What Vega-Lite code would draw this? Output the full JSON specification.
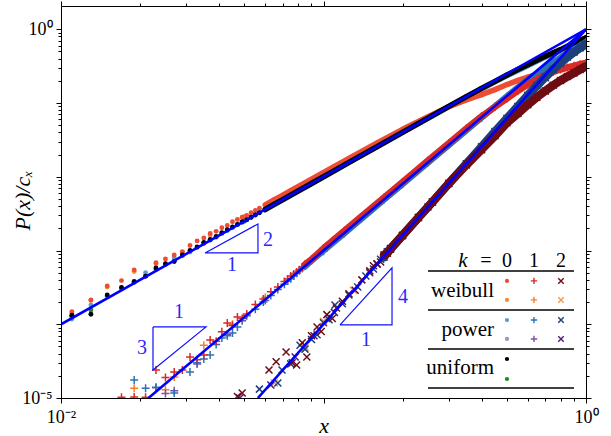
{
"$schema": "https://vega.github.io/schema/vega-lite/v6.json",
"width": 525, "height": 392,
"autosize": {"type": "none"},
"padding": {"left": 61, "top": 6, "right": 25, "bottom": 38},
"background": "white",
"config": {"font": "Liberation Serif", "view": {"stroke": null}},
"datasets": {
"main": [
{"s":"w0b","k":0,"x":0.011,"y":1.40e-4},{"s":"w0b","k":0,"x":0.013,"y":2.10e-4},{"s":"w0b","k":0,"x":0.015,"y":3.20e-4},{"s":"w0b","k":0,"x":0.019,"y":5.20e-4},{"s":"w0b","k":0,"x":0.023,"y":6.60e-4},{"s":"w0b","k":0,"x":0.029,"y":9.40e-4},{"s":"w0b","k":0,"x":0.037,"y":1.62e-3},{"s":"w0b","k":0,"x":0.05,"y":2.9e-3},{"s":"w0b","k":0,"x":0.1,"y":1.14e-2},{"s":"w0b","k":0,"x":0.2,"y":4.3e-2},{"s":"w0b","k":0,"x":0.4,"y":0.128},{"s":"w0b","k":0,"x":0.7,"y":0.26},{"s":"w0b","k":0,"x":1.0,"y":0.35},
{"s":"p0b","k":0,"x":0.011,"y":1.22e-4},{"s":"p0b","k":0,"x":0.017,"y":3.0e-4},{"s":"p0b","k":0,"x":0.025,"y":6.5e-4},{"s":"p0b","k":0,"x":0.035,"y":1.25e-3},{"s":"p0b","k":0,"x":0.05,"y":2.5e-3},{"s":"p0b","k":0,"x":0.1,"y":1.0e-2},{"s":"p0b","k":0,"x":0.2,"y":4.0e-2},{"s":"p0b","k":0,"x":0.4,"y":0.155},{"s":"p0b","k":0,"x":0.7,"y":0.44},{"s":"p0b","k":0,"x":1.0,"y":0.74},
{"s":"u0b","k":0,"x":0.011,"y":1.28e-4},{"s":"u0b","k":0,"x":0.013,"y":1.56e-4},{"s":"u0b","k":0,"x":0.019,"y":3.7e-4},{"s":"u0b","k":0,"x":0.027,"y":7.3e-4},{"s":"u0b","k":0,"x":0.035,"y":1.25e-3},{"s":"u0b","k":0,"x":0.05,"y":2.5e-3},{"s":"u0b","k":0,"x":0.1,"y":1.0e-2},{"s":"u0b","k":0,"x":0.2,"y":4.0e-2},{"s":"u0b","k":0,"x":0.4,"y":0.158},{"s":"u0b","k":0,"x":0.7,"y":0.43},{"s":"u0b","k":0,"x":1.0,"y":0.76},
{"s":"w1b","k":1,"x":0.019,"y":1.36e-5},{"s":"w1b","k":1,"x":0.025,"y":1.29e-5},{"s":"w1b","k":1,"x":0.027,"y":1.93e-5},{"s":"w1b","k":1,"x":0.035,"y":5.2e-5},{"s":"w1b","k":1,"x":0.045,"y":1.0e-4},{"s":"w1b","k":1,"x":0.06,"y":2.3e-4},{"s":"w1b","k":1,"x":0.1,"y":1.05e-3},{"s":"w1b","k":1,"x":0.2,"y":8.3e-3},{"s":"w1b","k":1,"x":0.4,"y":6.5e-2},{"s":"w1b","k":1,"x":0.7,"y":0.24},{"s":"w1b","k":1,"x":1.0,"y":0.35},
{"s":"p1b","k":1,"x":0.023,"y":1.38e-5},{"s":"p1b","k":1,"x":0.025,"y":1.15e-5},{"s":"p1b","k":1,"x":0.027,"y":1.25e-5},{"s":"p1b","k":1,"x":0.033,"y":2.9e-5},{"s":"p1b","k":1,"x":0.043,"y":7.3e-5},{"s":"p1b","k":1,"x":0.06,"y":2.1e-4},{"s":"p1b","k":1,"x":0.1,"y":9.8e-4},{"s":"p1b","k":1,"x":0.2,"y":7.9e-3},{"s":"p1b","k":1,"x":0.4,"y":6.3e-2},{"s":"p1b","k":1,"x":0.7,"y":0.30},{"s":"p1b","k":1,"x":1.0,"y":0.67},
{"s":"w2b","k":2,"x":0.065,"y":1.6e-5},{"s":"w2b","k":2,"x":0.085,"y":4.9e-5},{"s":"w2b","k":2,"x":0.1,"y":1.1e-4},{"s":"w2b","k":2,"x":0.13,"y":2.9e-4},{"s":"w2b","k":2,"x":0.2,"y":1.6e-3},{"s":"w2b","k":2,"x":0.4,"y":2.3e-2},{"s":"w2b","k":2,"x":0.7,"y":0.146},{"s":"w2b","k":2,"x":1.0,"y":0.315},
{"s":"p2b","k":2,"x":0.048,"y":1.0e-5},{"s":"p2b","k":2,"x":0.063,"y":1.5e-5},{"s":"p2b","k":2,"x":0.078,"y":3.6e-5},{"s":"p2b","k":2,"x":0.092,"y":7.0e-5},{"s":"p2b","k":2,"x":0.11,"y":1.45e-4},{"s":"p2b","k":2,"x":0.15,"y":5.0e-4},{"s":"p2b","k":2,"x":0.25,"y":3.9e-3},{"s":"p2b","k":2,"x":0.4,"y":2.5e-2},{"s":"p2b","k":2,"x":0.7,"y":0.22},{"s":"p2b","k":2,"x":1.0,"y":0.6},
{"s":"p0a","k":0,"x":0.011,"y":1.18e-4},{"s":"p0a","k":0,"x":0.013,"y":1.82e-4},{"s":"p0a","k":0,"x":0.015,"y":2.40e-4},{"s":"p0a","k":0,"x":0.017,"y":3.02e-4},{"s":"p0a","k":0,"x":0.019,"y":3.72e-4},{"s":"p0a","k":0,"x":0.021,"y":5.01e-4},{"s":"p0a","k":0,"x":0.023,"y":5.50e-4},{"s":"p0a","k":0,"x":0.025,"y":6.46e-4},{"s":"p0a","k":0,"x":0.027,"y":7.94e-4},{"s":"p0a","k":0,"x":0.029,"y":8.51e-4},{"s":"p0a","k":0,"x":0.031,"y":9.55e-4},{"s":"p0a","k":0,"x":0.033,"y":1.10e-3},{"s":"p0a","k":0,"x":0.035,"y":1.26e-3},{"s":"p0a","k":0,"x":0.037,"y":1.38e-3},{"s":"p0a","k":0,"x":0.039,"y":1.51e-3},{"s":"p0a","k":0,"x":0.041,"y":1.70e-3},{"s":"p0a","k":0,"x":0.043,"y":1.86e-3},{"s":"p0a","k":0,"x":0.045,"y":2.03e-3},{"s":"p0a","k":0,"x":0.047,"y":2.24e-3},{"s":"p0a","k":0,"x":0.049,"y":2.4e-3},{"s":"p0a","k":0,"x":0.051,"y":2.6e-3},{"s":"p0a","k":0,"x":0.053,"y":2.8e-3},{"s":"p0a","k":0,"x":0.055,"y":3.0e-3},{"s":"p0a","k":0,"x":0.057,"y":3.24e-3},{"s":"p0a","k":0,"x":0.06,"y":3.6e-3},{"s":"p0a","k":0,"x":0.065,"y":4.2e-3},{"s":"p0a","k":0,"x":0.07,"y":4.9e-3},{"s":"p0a","k":0,"x":0.075,"y":5.6e-3},{"s":"p0a","k":0,"x":0.09,"y":8.1e-3},{"s":"p0a","k":0,"x":0.11,"y":1.2e-2},{"s":"p0a","k":0,"x":0.13,"y":1.69e-2},{"s":"p0a","k":0,"x":0.16,"y":2.55e-2},{"s":"p0a","k":0,"x":0.2,"y":4.0e-2},{"s":"p0a","k":0,"x":0.25,"y":6.2e-2},{"s":"p0a","k":0,"x":0.3,"y":8.9e-2},{"s":"p0a","k":0,"x":0.35,"y":0.12},{"s":"p0a","k":0,"x":0.4,"y":0.155},{"s":"p0a","k":0,"x":0.5,"y":0.235},{"s":"p0a","k":0,"x":0.6,"y":0.32},{"s":"p0a","k":0,"x":0.7,"y":0.42},{"s":"p0a","k":0,"x":0.8,"y":0.51},{"s":"p0a","k":0,"x":0.9,"y":0.61},{"s":"p0a","k":0,"x":1.0,"y":0.72},
{"s":"p1a","k":1,"x":0.019,"y":1.75e-5},{"s":"p1a","k":1,"x":0.021,"y":1.36e-5},{"s":"p1a","k":1,"x":0.023,"y":1.40e-5},{"s":"p1a","k":1,"x":0.027,"y":1.17e-5},{"s":"p1a","k":1,"x":0.031,"y":2.25e-5},{"s":"p1a","k":1,"x":0.033,"y":3.0e-5},{"s":"p1a","k":1,"x":0.035,"y":3.38e-5},{"s":"p1a","k":1,"x":0.037,"y":3.83e-5},{"s":"p1a","k":1,"x":0.039,"y":5.3e-5},{"s":"p1a","k":1,"x":0.041,"y":6.5e-5},{"s":"p1a","k":1,"x":0.043,"y":7.0e-5},{"s":"p1a","k":1,"x":0.045,"y":7.6e-5},{"s":"p1a","k":1,"x":0.047,"y":9.2e-5},{"s":"p1a","k":1,"x":0.049,"y":1.12e-4},{"s":"p1a","k":1,"x":0.051,"y":1.3e-4},{"s":"p1a","k":1,"x":0.055,"y":1.6e-4},{"s":"p1a","k":1,"x":0.059,"y":2.0e-4},{"s":"p1a","k":1,"x":0.063,"y":2.45e-4},{"s":"p1a","k":1,"x":0.067,"y":2.95e-4},{"s":"p1a","k":1,"x":0.071,"y":3.5e-4},{"s":"p1a","k":1,"x":0.073,"y":3.85e-4},{"s":"p1a","k":1,"x":0.075,"y":4.15e-4},{"s":"p1a","k":1,"x":0.077,"y":4.5e-4},{"s":"p1a","k":1,"x":0.079,"y":4.9e-4},{"s":"p1a","k":1,"x":0.081,"y":5.3e-4},{"s":"p1a","k":1,"x":0.083,"y":5.7e-4},{"s":"p1a","k":1,"x":0.085,"y":6.1e-4},{"s":"p1a","k":1,"x":0.09,"y":7.3e-4},{"s":"p1a","k":1,"x":0.1,"y":1.0e-3},{"s":"p1a","k":1,"x":0.12,"y":1.72e-3},{"s":"p1a","k":1,"x":0.14,"y":2.74e-3},{"s":"p1a","k":1,"x":0.17,"y":4.9e-3},{"s":"p1a","k":1,"x":0.2,"y":8.0e-3},{"s":"p1a","k":1,"x":0.25,"y":1.56e-2},{"s":"p1a","k":1,"x":0.3,"y":2.7e-2},{"s":"p1a","k":1,"x":0.35,"y":4.28e-2},{"s":"p1a","k":1,"x":0.4,"y":6.35e-2},{"s":"p1a","k":1,"x":0.45,"y":9.0e-2},{"s":"p1a","k":1,"x":0.5,"y":0.123},{"s":"p1a","k":1,"x":0.55,"y":0.162},{"s":"p1a","k":1,"x":0.6,"y":0.205},{"s":"p1a","k":1,"x":0.65,"y":0.25},{"s":"p1a","k":1,"x":0.7,"y":0.30},{"s":"p1a","k":1,"x":0.75,"y":0.355},{"s":"p1a","k":1,"x":0.8,"y":0.41},{"s":"p1a","k":1,"x":0.85,"y":0.47},{"s":"p1a","k":1,"x":0.9,"y":0.53},{"s":"p1a","k":1,"x":0.95,"y":0.60},{"s":"p1a","k":1,"x":1.0,"y":0.67},
{"s":"p2a","k":2,"x":0.057,"y":1.32e-5},{"s":"p2a","k":2,"x":0.067,"y":1.6e-5},{"s":"p2a","k":2,"x":0.0695,"y":2.4e-5},{"s":"p2a","k":2,"x":0.075,"y":2.9e-5},{"s":"p2a","k":2,"x":0.0814,"y":5.2e-5},{"s":"p2a","k":2,"x":0.085,"y":4.6e-5},{"s":"p2a","k":2,"x":0.09,"y":6.2e-5},{"s":"p2a","k":2,"x":0.0945,"y":7.2e-5},{"s":"p2a","k":2,"x":0.1,"y":1.05e-4},{"s":"p2a","k":2,"x":0.105,"y":1.15e-4},{"s":"p2a","k":2,"x":0.1106,"y":1.82e-4},{"s":"p2a","k":2,"x":0.118,"y":1.9e-4},{"s":"p2a","k":2,"x":0.125,"y":2.5e-4},{"s":"p2a","k":2,"x":0.135,"y":3.2e-4},{"s":"p2a","k":2,"x":0.145,"y":4.5e-4},{"s":"p2a","k":2,"x":0.155,"y":5.6e-4},{"s":"p2a","k":2,"x":0.16,"y":6.5e-4},{"s":"p2a","k":2,"x":0.165,"y":7.6e-4},{"s":"p2a","k":2,"x":0.17,"y":8.1e-4},{"s":"p2a","k":2,"x":0.175,"y":9.6e-4},{"s":"p2a","k":2,"x":0.18,"y":1.04e-3},{"s":"p2a","k":2,"x":0.2,"y":1.6e-3},{"s":"p2a","k":2,"x":0.23,"y":2.8e-3},{"s":"p2a","k":2,"x":0.26,"y":4.55e-3},{"s":"p2a","k":2,"x":0.3,"y":8.1e-3},{"s":"p2a","k":2,"x":0.35,"y":1.5e-2},{"s":"p2a","k":2,"x":0.4,"y":2.55e-2},{"s":"p2a","k":2,"x":0.45,"y":4.1e-2},{"s":"p2a","k":2,"x":0.5,"y":6.2e-2},{"s":"p2a","k":2,"x":0.55,"y":9.0e-2},{"s":"p2a","k":2,"x":0.6,"y":0.127},{"s":"p2a","k":2,"x":0.65,"y":0.172},{"s":"p2a","k":2,"x":0.7,"y":0.225},{"s":"p2a","k":2,"x":0.75,"y":0.285},{"s":"p2a","k":2,"x":0.8,"y":0.35},{"s":"p2a","k":2,"x":0.85,"y":0.42},{"s":"p2a","k":2,"x":0.9,"y":0.49},{"s":"p2a","k":2,"x":0.95,"y":0.56},{"s":"p2a","k":2,"x":1.0,"y":0.63},
{"s":"w0a","k":0,"x":0.011,"y":1.48e-4},{"s":"w0a","k":0,"x":0.013,"y":2.14e-4},{"s":"w0a","k":0,"x":0.015,"y":3.31e-4},{"s":"w0a","k":0,"x":0.017,"y":3.91e-4},{"s":"w0a","k":0,"x":0.019,"y":5.46e-4},{"s":"w0a","k":0,"x":0.021,"y":4.52e-4},{"s":"w0a","k":0,"x":0.023,"y":6.85e-4},{"s":"w0a","k":0,"x":0.025,"y":7.69e-4},{"s":"w0a","k":0,"x":0.027,"y":8.71e-4},{"s":"w0a","k":0,"x":0.029,"y":9.66e-4},{"s":"w0a","k":0,"x":0.031,"y":1.17e-3},{"s":"w0a","k":0,"x":0.033,"y":1.35e-3},{"s":"w0a","k":0,"x":0.035,"y":1.48e-3},{"s":"w0a","k":0,"x":0.037,"y":1.70e-3},{"s":"w0a","k":0,"x":0.039,"y":1.82e-3},{"s":"w0a","k":0,"x":0.041,"y":2.04e-3},{"s":"w0a","k":0,"x":0.043,"y":2.19e-3},{"s":"w0a","k":0,"x":0.045,"y":2.45e-3},{"s":"w0a","k":0,"x":0.047,"y":2.63e-3},{"s":"w0a","k":0,"x":0.049,"y":2.82e-3},{"s":"w0a","k":0,"x":0.051,"y":3.0e-3},{"s":"w0a","k":0,"x":0.053,"y":3.25e-3},{"s":"w0a","k":0,"x":0.055,"y":3.5e-3},{"s":"w0a","k":0,"x":0.057,"y":3.75e-3},{"s":"w0a","k":0,"x":0.06,"y":4.15e-3},{"s":"w0a","k":0,"x":0.065,"y":4.9e-3},{"s":"w0a","k":0,"x":0.07,"y":5.65e-3},{"s":"w0a","k":0,"x":0.075,"y":6.5e-3},{"s":"w0a","k":0,"x":0.09,"y":9.3e-3},{"s":"w0a","k":0,"x":0.11,"y":1.38e-2},{"s":"w0a","k":0,"x":0.13,"y":1.92e-2},{"s":"w0a","k":0,"x":0.16,"y":2.88e-2},{"s":"w0a","k":0,"x":0.2,"y":4.4e-2},{"s":"w0a","k":0,"x":0.25,"y":6.5e-2},{"s":"w0a","k":0,"x":0.3,"y":8.9e-2},{"s":"w0a","k":0,"x":0.35,"y":0.110},{"s":"w0a","k":0,"x":0.4,"y":0.130},{"s":"w0a","k":0,"x":0.45,"y":0.152},{"s":"w0a","k":0,"x":0.5,"y":0.178},{"s":"w0a","k":0,"x":0.55,"y":0.203},{"s":"w0a","k":0,"x":0.6,"y":0.225},{"s":"w0a","k":0,"x":0.65,"y":0.245},{"s":"w0a","k":0,"x":0.7,"y":0.263},{"s":"w0a","k":0,"x":0.75,"y":0.28},{"s":"w0a","k":0,"x":0.8,"y":0.295},{"s":"w0a","k":0,"x":0.85,"y":0.31},{"s":"w0a","k":0,"x":0.9,"y":0.324},{"s":"w0a","k":0,"x":0.95,"y":0.338},{"s":"w0a","k":0,"x":1.0,"y":0.351},
{"s":"w1a","k":1,"x":0.017,"y":1.02e-5},{"s":"w1a","k":1,"x":0.019,"y":1.03e-5},{"s":"w1a","k":1,"x":0.021,"y":1.02e-5},{"s":"w1a","k":1,"x":0.023,"y":2.40e-5},{"s":"w1a","k":1,"x":0.025,"y":1.9e-5},{"s":"w1a","k":1,"x":0.027,"y":2.25e-5},{"s":"w1a","k":1,"x":0.029,"y":2.40e-5},{"s":"w1a","k":1,"x":0.031,"y":3.6e-5},{"s":"w1a","k":1,"x":0.033,"y":3.3e-5},{"s":"w1a","k":1,"x":0.035,"y":3.83e-5},{"s":"w1a","k":1,"x":0.037,"y":6.1e-5},{"s":"w1a","k":1,"x":0.039,"y":5.9e-5},{"s":"w1a","k":1,"x":0.041,"y":7.9e-5},{"s":"w1a","k":1,"x":0.043,"y":1.04e-4},{"s":"w1a","k":1,"x":0.045,"y":9.6e-5},{"s":"w1a","k":1,"x":0.047,"y":1.25e-4},{"s":"w1a","k":1,"x":0.049,"y":1.2e-4},{"s":"w1a","k":1,"x":0.051,"y":1.38e-4},{"s":"w1a","k":1,"x":0.055,"y":1.85e-4},{"s":"w1a","k":1,"x":0.059,"y":2.2e-4},{"s":"w1a","k":1,"x":0.063,"y":2.75e-4},{"s":"w1a","k":1,"x":0.067,"y":3.2e-4},{"s":"w1a","k":1,"x":0.071,"y":3.8e-4},{"s":"w1a","k":1,"x":0.073,"y":4.1e-4},{"s":"w1a","k":1,"x":0.075,"y":4.5e-4},{"s":"w1a","k":1,"x":0.077,"y":4.8e-4},{"s":"w1a","k":1,"x":0.079,"y":5.1e-4},{"s":"w1a","k":1,"x":0.081,"y":5.5e-4},{"s":"w1a","k":1,"x":0.083,"y":6.0e-4},{"s":"w1a","k":1,"x":0.085,"y":6.5e-4},{"s":"w1a","k":1,"x":0.09,"y":7.6e-4},{"s":"w1a","k":1,"x":0.1,"y":1.07e-3},{"s":"w1a","k":1,"x":0.12,"y":1.85e-3},{"s":"w1a","k":1,"x":0.14,"y":2.95e-3},{"s":"w1a","k":1,"x":0.17,"y":5.25e-3},{"s":"w1a","k":1,"x":0.2,"y":8.5e-3},{"s":"w1a","k":1,"x":0.25,"y":1.66e-2},{"s":"w1a","k":1,"x":0.3,"y":2.85e-2},{"s":"w1a","k":1,"x":0.35,"y":4.5e-2},{"s":"w1a","k":1,"x":0.4,"y":6.6e-2},{"s":"w1a","k":1,"x":0.45,"y":8.9e-2},{"s":"w1a","k":1,"x":0.5,"y":0.115},{"s":"w1a","k":1,"x":0.55,"y":0.146},{"s":"w1a","k":1,"x":0.6,"y":0.178},{"s":"w1a","k":1,"x":0.65,"y":0.21},{"s":"w1a","k":1,"x":0.7,"y":0.24},{"s":"w1a","k":1,"x":0.75,"y":0.265},{"s":"w1a","k":1,"x":0.8,"y":0.285},{"s":"w1a","k":1,"x":0.85,"y":0.303},{"s":"w1a","k":1,"x":0.9,"y":0.32},{"s":"w1a","k":1,"x":0.95,"y":0.336},{"s":"w1a","k":1,"x":1.0,"y":0.35},
{"s":"w2a","k":2,"x":0.047,"y":1.05e-5},{"s":"w2a","k":2,"x":0.049,"y":1.17e-5},{"s":"w2a","k":2,"x":0.062,"y":2.4e-5},{"s":"w2a","k":2,"x":0.066,"y":3.1e-5},{"s":"w2a","k":2,"x":0.072,"y":4.2e-5},{"s":"w2a","k":2,"x":0.076,"y":3.0e-5},{"s":"w2a","k":2,"x":0.079,"y":2.8e-5},{"s":"w2a","k":2,"x":0.083,"y":5.6e-5},{"s":"w2a","k":2,"x":0.0864,"y":3.6e-5},{"s":"w2a","k":2,"x":0.09,"y":7.0e-5},{"s":"w2a","k":2,"x":0.0945,"y":9.2e-5},{"s":"w2a","k":2,"x":0.098,"y":8.0e-5},{"s":"w2a","k":2,"x":0.103,"y":1.35e-4},{"s":"w2a","k":2,"x":0.108,"y":1.2e-4},{"s":"w2a","k":2,"x":0.112,"y":1.66e-4},{"s":"w2a","k":2,"x":0.118,"y":2.05e-4},{"s":"w2a","k":2,"x":0.125,"y":2.6e-4},{"s":"w2a","k":2,"x":0.132,"y":2.9e-4},{"s":"w2a","k":2,"x":0.14,"y":4.0e-4},{"s":"w2a","k":2,"x":0.15,"y":5.3e-4},{"s":"w2a","k":2,"x":0.155,"y":6.2e-4},{"s":"w2a","k":2,"x":0.16,"y":6.6e-4},{"s":"w2a","k":2,"x":0.165,"y":7.0e-4},{"s":"w2a","k":2,"x":0.17,"y":8.7e-4},{"s":"w2a","k":2,"x":0.175,"y":9.2e-4},{"s":"w2a","k":2,"x":0.18,"y":1.06e-3},{"s":"w2a","k":2,"x":0.2,"y":1.6e-3},{"s":"w2a","k":2,"x":0.23,"y":2.8e-3},{"s":"w2a","k":2,"x":0.26,"y":4.55e-3},{"s":"w2a","k":2,"x":0.3,"y":8.1e-3},{"s":"w2a","k":2,"x":0.35,"y":1.45e-2},{"s":"w2a","k":2,"x":0.4,"y":2.34e-2},{"s":"w2a","k":2,"x":0.45,"y":3.6e-2},{"s":"w2a","k":2,"x":0.5,"y":5.4e-2},{"s":"w2a","k":2,"x":0.55,"y":7.2e-2},{"s":"w2a","k":2,"x":0.6,"y":9.5e-2},{"s":"w2a","k":2,"x":0.65,"y":0.12},{"s":"w2a","k":2,"x":0.7,"y":0.146},{"s":"w2a","k":2,"x":0.75,"y":0.174},{"s":"w2a","k":2,"x":0.8,"y":0.202},{"s":"w2a","k":2,"x":0.85,"y":0.229},{"s":"w2a","k":2,"x":0.9,"y":0.256},{"s":"w2a","k":2,"x":0.95,"y":0.285},{"s":"w2a","k":2,"x":1.0,"y":0.315},
{"s":"u0a","k":0,"x":0.011,"y":1.33e-4},{"s":"u0a","k":0,"x":0.013,"y":1.37e-4},{"s":"u0a","k":0,"x":0.015,"y":2.50e-4},{"s":"u0a","k":0,"x":0.017,"y":3.16e-4},{"s":"u0a","k":0,"x":0.019,"y":3.80e-4},{"s":"u0a","k":0,"x":0.021,"y":4.47e-4},{"s":"u0a","k":0,"x":0.023,"y":5.81e-4},{"s":"u0a","k":0,"x":0.025,"y":6.61e-4},{"s":"u0a","k":0,"x":0.027,"y":7.08e-4},{"s":"u0a","k":0,"x":0.029,"y":8.71e-4},{"s":"u0a","k":0,"x":0.031,"y":1.00e-3},{"s":"u0a","k":0,"x":0.033,"y":1.12e-3},{"s":"u0a","k":0,"x":0.035,"y":1.29e-3},{"s":"u0a","k":0,"x":0.037,"y":1.41e-3},{"s":"u0a","k":0,"x":0.039,"y":1.55e-3},{"s":"u0a","k":0,"x":0.041,"y":1.74e-3},{"s":"u0a","k":0,"x":0.043,"y":1.91e-3},{"s":"u0a","k":0,"x":0.045,"y":2.09e-3},{"s":"u0a","k":0,"x":0.047,"y":2.26e-3},{"s":"u0a","k":0,"x":0.049,"y":2.45e-3},{"s":"u0a","k":0,"x":0.051,"y":2.62e-3},{"s":"u0a","k":0,"x":0.053,"y":2.82e-3},{"s":"u0a","k":0,"x":0.055,"y":3.05e-3},{"s":"u0a","k":0,"x":0.057,"y":3.25e-3},{"s":"u0a","k":0,"x":0.06,"y":3.6e-3},{"s":"u0a","k":0,"x":0.065,"y":4.25e-3},{"s":"u0a","k":0,"x":0.07,"y":4.9e-3},{"s":"u0a","k":0,"x":0.075,"y":5.65e-3},{"s":"u0a","k":0,"x":0.09,"y":8.1e-3},{"s":"u0a","k":0,"x":0.11,"y":1.21e-2},{"s":"u0a","k":0,"x":0.13,"y":1.69e-2},{"s":"u0a","k":0,"x":0.16,"y":2.56e-2},{"s":"u0a","k":0,"x":0.2,"y":4.0e-2},{"s":"u0a","k":0,"x":0.25,"y":6.25e-2},{"s":"u0a","k":0,"x":0.3,"y":9.0e-2},{"s":"u0a","k":0,"x":0.35,"y":0.122},{"s":"u0a","k":0,"x":0.4,"y":0.158},{"s":"u0a","k":0,"x":0.45,"y":0.197},{"s":"u0a","k":0,"x":0.5,"y":0.24},{"s":"u0a","k":0,"x":0.55,"y":0.285},{"s":"u0a","k":0,"x":0.6,"y":0.33},{"s":"u0a","k":0,"x":0.65,"y":0.38},{"s":"u0a","k":0,"x":0.7,"y":0.43},{"s":"u0a","k":0,"x":0.75,"y":0.48},{"s":"u0a","k":0,"x":0.8,"y":0.53},{"s":"u0a","k":0,"x":0.85,"y":0.59},{"s":"u0a","k":0,"x":0.9,"y":0.65},{"s":"u0a","k":0,"x":0.95,"y":0.71},{"s":"u0a","k":0,"x":1.0,"y":0.77}
],
"fit": [
{"g":"2","x":0.01,"y":1e-4},{"g":"2","x":1,"y":1},
{"g":"3","x":0.021544,"y":1e-5},{"g":"3","x":1,"y":1},
{"g":"4","x":0.056234,"y":1e-5},{"g":"4","x":1,"y":1}
],
"tri": [
{"t":"a","o":0,"x":0.03537,"y":9.28e-4},{"t":"a","o":1,"x":0.05628,"y":9.28e-4},{"t":"a","o":2,"x":0.05628,"y":2.296e-3},{"t":"a","o":3,"x":0.03537,"y":9.28e-4},
{"t":"b","o":0,"x":0.02241,"y":9.19e-5},{"t":"b","o":1,"x":0.03568,"y":9.19e-5},{"t":"b","o":2,"x":0.02241,"y":2.40e-5},{"t":"b","o":3,"x":0.02241,"y":9.19e-5},
{"t":"c","o":0,"x":0.1156,"y":9.79e-5},{"t":"c","o":1,"x":0.1824,"y":9.79e-5},{"t":"c","o":2,"x":0.1824,"y":5.81e-4},{"t":"c","o":3,"x":0.1156,"y":9.79e-5}
],
"tlab": [
{"label":"1","x":0.04481,"y":6.38e-4},{"label":"2","x":0.06146,"y":1.393e-3},
{"label":"1","x":0.02815,"y":1.469e-4},{"label":"3","x":0.02035,"y":4.77e-5},
{"label":"4","x":0.2009,"y":2.35e-4},{"label":"1","x":0.1452,"y":6.12e-5}
],
"lrule": [
{"x":0.2501,"x2":0.9,"y":5.28e-4},{"x":0.2501,"x2":0.9,"y":1.563e-4},{"x":0.2501,"x2":0.9,"y":4.62e-5},{"x":0.2501,"x2":0.9,"y":1.367e-5}
],
"lhead": [
{"label":"=","x":0.4159,"y":5.99e-4},{"label":"0","x":0.5,"y":5.99e-4},{"label":"1","x":0.6336,"y":5.99e-4},{"label":"2","x":0.803,"y":5.99e-4}
],
"lk": [{"label":"k","x":0.3399,"y":5.99e-4}],
"lrow": [
{"label":"weibull","x":0.4461,"y":2.35e-4},{"label":"power","x":0.4461,"y":6.93e-5},{"label":"uniform","x":0.4461,"y":2.11e-5}
],
"leg": [
{"s":"w0a","k":0,"x":0.5,"y":3.87e-4},{"s":"w1a","k":1,"x":0.6336,"y":3.87e-4},{"s":"w2a","k":2,"x":0.803,"y":3.87e-4},
{"s":"w0b","k":0,"x":0.5,"y":2.14e-4},{"s":"w1b","k":1,"x":0.6336,"y":2.14e-4},{"s":"w2b","k":2,"x":0.803,"y":2.14e-4},
{"s":"p0a","k":0,"x":0.5,"y":1.14e-4},{"s":"p1a","k":1,"x":0.6336,"y":1.14e-4},{"s":"p2a","k":2,"x":0.803,"y":1.14e-4},
{"s":"p0b","k":0,"x":0.5,"y":6.32e-5},{"s":"p1b","k":1,"x":0.6336,"y":6.32e-5},{"s":"p2b","k":2,"x":0.803,"y":6.32e-5},
{"s":"u0a","k":0,"x":0.5,"y":3.38e-5},
{"s":"u0b","k":0,"x":0.5,"y":1.81e-5}
]
},
"encoding": {
"x": {"field":"x","type":"quantitative","scale":{"type":"log","domain":[0.01,1],"nice":false},"axis":null},
"y": {"field":"y","type":"quantitative","scale":{"type":"log","domain":[1e-5,2.07],"nice":false},"axis":null}
},
"layer": [
{"data":{"name":"main"},"transform":[{"filter":"datum.k == 0"}],
 "mark":{"type":"point","shape":"circle","filled":true,"size":24,"opacity":1,"strokeWidth":0,"clip":true},
 "encoding":{
  "x":{"field":"x","type":"quantitative","scale":{"type":"log","domain":[0.01,1],"nice":false},
   "axis":{"orient":"bottom","values":[0.01,0.02,0.03,0.04,0.05,0.06,0.07,0.08,0.09,0.1,0.2,0.3,0.4,0.5,0.6,0.7,0.8,0.9,1],
    "labelExpr":"datum.value == 0.01 ? '10⁻²' : (datum.value == 1 ? '10⁰' : '')",
    "labelFontSize":18,"labelColor":"black","labelFlush":false,"labelOverlap":false,"labelBound":false,"labelPadding":5,
    "tickSize":{"condition":{"test":"datum.value == 0.01 || datum.value == 0.1 || datum.value == 1","value":5},"value":3},
    "tickColor":"black","domainColor":"black","grid":false,"zindex":1,
    "title":"x","titleFontSize":22,"titleFontStyle":"italic","titleFontWeight":"normal","titleColor":"black","titleBaseline":"alphabetic","titleY":34}},
  "y":{"field":"y","type":"quantitative","scale":{"type":"log","domain":[1e-5,2.07],"nice":false},
   "axis":{"orient":"left","values":[1e-5,2e-5,3e-5,4e-5,5e-5,6e-5,7e-5,8e-5,9e-5,1e-4,2e-4,3e-4,4e-4,5e-4,6e-4,7e-4,8e-4,9e-4,1e-3,2e-3,3e-3,4e-3,5e-3,6e-3,7e-3,8e-3,9e-3,0.01,0.02,0.03,0.04,0.05,0.06,0.07,0.08,0.09,0.1,0.2,0.3,0.4,0.5,0.6,0.7,0.8,0.9,1],
    "labelExpr":"datum.value == 1 ? '10⁰' : (datum.value == 0.00001 ? '10⁻⁵' : '')",
    "labelFontSize":18,"labelColor":"black","labelFlush":false,"labelOverlap":false,"labelBound":false,"labelPadding":4,
    "tickSize":{"condition":{"test":"abs(log(datum.value)/LN10 - round(log(datum.value)/LN10)) < 0.001","value":5},"value":3},
    "tickColor":"black","domainColor":"black","grid":false,"zindex":1,
    "title":"P(x)/cₓ","titleFontSize":22,"titleFontStyle":"italic","titleFontWeight":"normal","titleColor":"black",
    "titleX":-39,"titleY":194,"titleAngle":-90,"titleAlign":"center","titleBaseline":"middle"}},
  "color":{"field":"s","type":"nominal","legend":null,
   "scale":{"domain":["w0a","w0b","w1a","w1b","w2a","w2b","p0a","p0b","p1a","p1b","p2a","p2b","u0a","u0b"],
    "range":["#ef4c34","#f68d3d","#d92a26","#f57e2c","#6e0c14","#f5964e","#5b9fd2","#9c93c8","#2a72b5","#7c52a8","#1d3f7c","#4f1a80","#000000","#1c8a1c"]}}
 }},
{"data":{"name":"main"},"transform":[{"filter":"indexof(['p0a','w0a','u0a'], datum.s) >= 0 && datum.x >= 0.06"}],
 "mark":{"type":"line","strokeWidth":5.5,"strokeCap":"round","strokeJoin":"round","clip":true},
 "encoding":{
  "x":{"field":"x","type":"quantitative","scale":{"type":"log","domain":[0.01,1],"nice":false},
   "axis":{"orient":"top","values":[0.01,0.02,0.03,0.04,0.05,0.06,0.07,0.08,0.09,0.1,0.2,0.3,0.4,0.5,0.6,0.7,0.8,0.9,1],
    "labels":false,"title":null,"grid":false,"zindex":1,"tickColor":"black","domainColor":"black",
    "tickSize":{"condition":{"test":"datum.value == 0.01 || datum.value == 0.1 || datum.value == 1","value":5},"value":3}}},
  "y":{"field":"y","type":"quantitative","scale":{"type":"log","domain":[1e-5,2.07],"nice":false},
   "axis":{"orient":"right","values":[1e-5,2e-5,3e-5,4e-5,5e-5,6e-5,7e-5,8e-5,9e-5,1e-4,2e-4,3e-4,4e-4,5e-4,6e-4,7e-4,8e-4,9e-4,1e-3,2e-3,3e-3,4e-3,5e-3,6e-3,7e-3,8e-3,9e-3,0.01,0.02,0.03,0.04,0.05,0.06,0.07,0.08,0.09,0.1,0.2,0.3,0.4,0.5,0.6,0.7,0.8,0.9,1],
    "labels":false,"title":null,"grid":false,"zindex":1,"tickColor":"black","domainColor":"black",
    "tickSize":{"condition":{"test":"abs(log(datum.value)/LN10 - round(log(datum.value)/LN10)) < 0.001","value":5},"value":3}}},
  "color":{"field":"s","type":"nominal","legend":null}
 }},
{"data":{"name":"main"},"transform":[{"filter":"datum.k == 1"}],
 "mark":{"type":"point","shape":"M-1,0L1,0M0,-1L0,1","filled":false,"size":64,"strokeWidth":1.5,"opacity":1,"clip":true},
 "encoding":{"color":{"field":"s","type":"nominal","legend":null}}},
{"data":{"name":"main"},"transform":[{"filter":"indexof(['p1a','w1a'], datum.s) >= 0 && datum.x >= 0.085"}],
 "mark":{"type":"line","strokeWidth":6.5,"strokeCap":"round","strokeJoin":"round","clip":true},
 "encoding":{"color":{"field":"s","type":"nominal","legend":null}}},
{"data":{"name":"main"},"transform":[{"filter":"datum.k == 2"}],
 "mark":{"type":"point","shape":"M-1,-1L1,1M-1,1L1,-1","filled":false,"size":49,"strokeWidth":1.5,"opacity":1,"clip":true},
 "encoding":{"color":{"field":"s","type":"nominal","legend":null}}},
{"data":{"name":"main"},"transform":[{"filter":"indexof(['p2a','w2a'], datum.s) >= 0 && datum.x >= 0.17"}],
 "mark":{"type":"line","strokeWidth":8.5,"strokeCap":"round","strokeJoin":"round","clip":true},
 "encoding":{"color":{"field":"s","type":"nominal","legend":null}}},
{"data":{"name":"fit"},
 "mark":{"type":"line","color":"#0000ff","strokeWidth":2.6,"clip":true},
 "encoding":{"detail":{"field":"g","type":"nominal"}}},
{"data":{"name":"tri"},
 "mark":{"type":"line","color":"#1010ff","strokeWidth":1.2},
 "encoding":{"detail":{"field":"t","type":"nominal"},"order":{"field":"o","type":"quantitative"}}},
{"data":{"name":"tlab"},
 "mark":{"type":"text","color":"#2a2aff","fontSize":20,"align":"center","baseline":"middle"},
 "encoding":{"text":{"field":"label","type":"nominal"}}},
{"data":{"name":"lrule"},
 "mark":{"type":"rule","color":"black","strokeWidth":1.4},
 "encoding":{"x2":{"field":"x2"}}},
{"data":{"name":"lhead"},
 "mark":{"type":"text","color":"black","fontSize":20,"align":"center","baseline":"alphabetic"},
 "encoding":{"text":{"field":"label","type":"nominal"}}},
{"data":{"name":"lk"},
 "mark":{"type":"text","color":"black","fontSize":21,"fontStyle":"italic","align":"center","baseline":"alphabetic"},
 "encoding":{"text":{"field":"label","type":"nominal"}}},
{"data":{"name":"lrow"},
 "mark":{"type":"text","color":"black","fontSize":21,"align":"right","baseline":"alphabetic"},
 "encoding":{"text":{"field":"label","type":"nominal"}}},
{"data":{"name":"leg"},"transform":[{"filter":"datum.k == 0"}],
 "mark":{"type":"point","shape":"circle","filled":true,"size":18,"opacity":1,"strokeWidth":0},
 "encoding":{"color":{"field":"s","type":"nominal","legend":null}}},
{"data":{"name":"leg"},"transform":[{"filter":"datum.k == 1"}],
 "mark":{"type":"point","shape":"M-1,0L1,0M0,-1L0,1","filled":false,"size":40,"strokeWidth":1.4,"opacity":1},
 "encoding":{"color":{"field":"s","type":"nominal","legend":null}}},
{"data":{"name":"leg"},"transform":[{"filter":"datum.k == 2"}],
 "mark":{"type":"point","shape":"M-1,-1L1,1M-1,1L1,-1","filled":false,"size":30,"strokeWidth":1.4,"opacity":1},
 "encoding":{"color":{"field":"s","type":"nominal","legend":null}}}
]
}
